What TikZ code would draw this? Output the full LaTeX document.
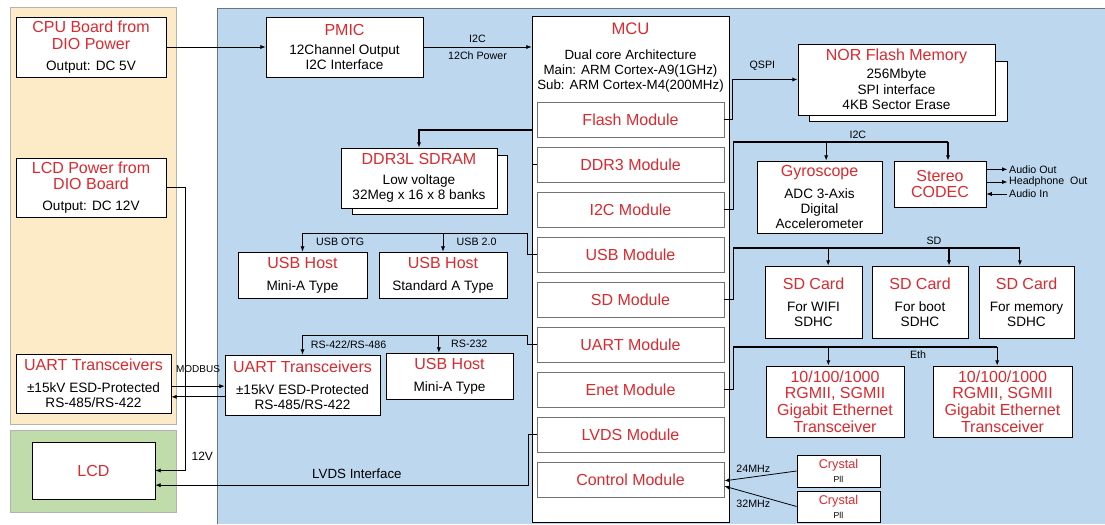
\documentclass[tikz,border=0pt]{standalone}
\usepackage{fontspec}
\setmainfont{Liberation Sans}
\usetikzlibrary{arrows.meta,positioning}
\definecolor{titred}{HTML}{DA2A2F}
\definecolor{panelbeige}{HTML}{FDEBC8}
\definecolor{panelblue}{HTML}{BDD7EE}
\definecolor{panelgreen}{HTML}{C0DCAA}
\newcommand{\ttl}[1]{{\color{titred}\fontsize{12}{13.5}\selectfont #1}}
\begin{document}
\begin{tikzpicture}[x=0.75pt,y=-0.75pt,line width=0.6pt,
	>={Latex[length=4pt,width=3.2pt]},
	sz/.style 2 args={minimum width=#1*0.75pt,minimum height=#2*0.75pt},
	box/.style={draw,fill=white,inner sep=0pt,align=center,font=\fontsize{10.2}{11.5}\selectfont},
	module/.style={draw=black!55,fill=white,sz={187}{35},inner sep=0pt,text=titred,font=\fontsize{12}{13.5}\selectfont},
	bus/.style={line width=1.2pt},
	lbl/.style={font=\fontsize{8}{9}\selectfont,inner sep=1pt}]
		\useasboundingbox (0,0) rectangle (1105,524);
		\draw[black!30,fill=panelbeige] (10,7) rectangle (176,424);
		\draw[black!30,fill=panelgreen] (10,430) rectangle (176,512);
		\fill[panelblue] (217,8) rectangle (1105,524);
		\draw[black!45!panelblue] (217,524) -- (217,8) -- (1105,8);
		\node[box,sz={150}{60}] (cpupwr) at (91,47) {\ttl{CPU Board from}\\[1pt]\ttl{DIO Power}\\[4pt]Output: DC 5V};
		\node[box,sz={150}{59}] (lcdpwr) at (91,187.5) {\ttl{LCD Power from}\\[1pt]\ttl{DIO Board}\\[4pt]Output: DC 12V};
		\node[box,sz={155}{59}] (uartl) at (93.5,383.5) {\ttl{UART Transceivers}\\[5pt]±15kV ESD-Protected\\RS-485/RS-422};
		\node[box,sz={123}{57}] (lcd) at (93.5,470.5) {\ttl{LCD}};
		\node[box,sz={157}{60}] (pmic) at (344.5,47) {\ttl{PMIC}\\[3pt]12Channel Output\\I2C Interface};
		\draw[fill=white] (352,155) rectangle (507,214);
		\node[box,sz={156}{60}] (ddr) at (419,178) {\ttl{DDR3L SDRAM}\\[3pt]Low voltage\\32Meg x 16 x 8 banks};
		\node[box,sz={129}{46}] (usbotg) at (302.5,275) {\ttl{USB Host}\\[5pt]Mini-A Type};
		\node[box,sz={128}{46}] (usbstd) at (443,275) {\ttl{USB Host}\\[5pt]Standard A Type};
		\node[box,sz={155}{60}] (uartr) at (302.5,385) {\ttl{UART Transceivers}\\[5pt]±15kV ESD-Protected\\RS-485/RS-422};
		\node[box,sz={127}{46}] (usbrs) at (449.5,376) {\ttl{USB Host}\\[5pt]Mini-A Type};
		\node[draw,fill=white,inner sep=0pt,sz={197}{506}] (mcu) at (630.5,269) {};
		\node[anchor=north,align=center,font=\fontsize{10}{11}\selectfont] (mcuhead) at (630.5,18) {{\color{titred}\fontsize{12.5}{14}\selectfont MCU}\\[8pt]Dual core Architecture\\Main: ARM Cortex-A9(1GHz)\\Sub: ARM Cortex-M4(200MHz)};
		\foreach \m/\txt [count=\i from 0] in {flashm/Flash Module,ddrm/DDR3 Module,i2cm/I2C Module,usbm/USB Module,sdm/SD Module,uartm/UART Module,enetm/Enet Module,lvdsm/LVDS Module,ctrlm/Control Module}
			\node[module] (\m) at (630.5,{119.5+45*\i}) {\txt};
		\draw[fill=white] (809,61) rectangle (1007,121);
		\node[box,sz={197}{71}] (nor) at (896.5,79.5) {\ttl{NOR Flash Memory}\\[2pt]256Mbyte\\SPI interface\\4KB Sector Erase};
		\node[box,sz={125}{72}] (gyro) at (819.5,197) {\ttl{Gyroscope}\\[5pt]ADC 3-Axis\\Digital\\Accelerometer};
		\node[box,sz={92}{46}] (codec) at (940,184) {\ttl{Stereo}\\[1pt]\ttl{CODEC}};
		\foreach \c/\xc/\w/\purpose in {sdwifi/813.5/97/For WIFI,sdboot/920/96/For boot,sdmem/1026.5/95/For memory}
			\node[box,sz={\w}{72}] (\c) at (\xc,302) {\ttl{SD Card}\\[5pt]\purpose\\SDHC};
		\foreach \e/\xc/\w in {eth1/835/138,eth2/1002.5/139}
			\node[box,sz={\w}{71}] (\e) at (\xc,401.5) {\ttl{10/100/1000}\\[1pt]\ttl{RGMII, SGMII}\\[1pt]\ttl{Gigabit Ethernet}\\[1pt]\ttl{Transceiver}};
		\node[box,sz={83}{32}] (xtal1) at (838.5,471) {{\color{titred}\fontsize{9.5}{11}\selectfont Crystal}\\[-1pt]{\fontsize{6.5}{7}\selectfont Pll}};
		\node[box,sz={83}{31}] (xtal2) at (838.5,506.5) {{\color{titred}\fontsize{9.5}{11}\selectfont Crystal}\\[-1pt]{\fontsize{6.5}{7}\selectfont Pll}};
		\draw[->] (cpupwr.east) -- (pmic.west);
		\draw[->] (pmic.east) -- (pmic.east -| mcu.west) node[lbl,midway,above=2pt] {I2C} node[lbl,midway,below=2pt] {12Ch Power};
		\draw[->] (lcdpwr.east) -- ++(19,0) |- (lcd.east) node[pos=0.475,right=1pt,font=\fontsize{9}{10}\selectfont] {12V};
		\coordinate (mbout) at ([yshift=-2pt]uartl.east);
		\coordinate (mbin) at ([yshift=-10pt]uartl.east);
		\draw[->] (mbout) -- (mbout -| uartr.west) node[lbl,midway,above=9pt,font=\fontsize{7.5}{8}\selectfont] {MODBUS};
		\draw[<-] (mbin) -- (mbin -| uartr.west);
		\draw[->] (lvdsm.west) -- ++(-8,0) |- ([yshift=-11pt]lcd.east) node[pos=0.73,above=1pt,font=\fontsize{10}{12}\selectfont] {LVDS Interface};
		\coordinate (usbbus) at (0,233);
		\draw (usbm.west) -- ++(-9,0) |- (usbotg.north |- usbbus);
		\draw[->] (usbotg.north |- usbbus) -- (usbotg.north) node[lbl,midway,right=9pt] {USB OTG};
		\draw[->] (usbstd.north |- usbbus) -- (usbstd.north) node[lbl,midway,right=9pt] {USB 2.0};
		\coordinate (uartbus) at (0,335);
		\coordinate (rsin) at ([xshift=-8pt]usbrs.north);
		\draw (uartm.west) -- ++(-9,0) |- (uartr.north |- uartbus);
		\draw[->] (uartr.north |- uartbus) -- (uartr.north) node[lbl,midway,right=5pt] {RS-422/RS-486};
		\draw[->] (rsin |- uartbus) -- (rsin) node[lbl,midway,right=8pt] {RS-232};
		\coordinate (ddrbus) at (0,130);
		\draw[bus,->] (ddrm.west) -- ++(-4,0) |- (ddr.north |- ddrbus) -- (ddr.north);
		\draw[bus,->] (flashm.east) -- ++(8,0) |- (nor.west) node[lbl,pos=0.73,above=5pt] {QSPI};
		\coordinate (i2cbus) at (0,142);
		\coordinate (gyroin) at ([xshift=5pt]gyro.north);
		\coordinate (codecin) at ([xshift=6pt]codec.north);
		\draw[bus] (i2cm.east) -- ++(9,0) |- (codecin |- i2cbus) node[lbl,pos=0.79,above=1pt] {I2C};
		\draw[line width=0.9pt,->] (gyroin |- i2cbus) -- (gyroin);
		\draw[line width=0.9pt,->] (codecin |- i2cbus) -- (codecin);
		\draw[->] ([yshift=11pt]codec.east) -- ++(21,0) node[lbl,right] {Audio Out};
		\draw[->] ([yshift=1.5pt]codec.east) -- ++(21,0) node[lbl,right] {Headphone\ \ Out};
		\draw[<-] ([yshift=-7.5pt]codec.east) -- ++(21,0) node[lbl,right] {Audio In};
		\coordinate (sdbus) at (0,248);
		\coordinate (sd1in) at ([xshift=11pt]sdwifi.north);
		\coordinate (sd2in) at ([xshift=21.75pt]sdboot.north);
		\coordinate (sd3in) at ([xshift=-5pt]sdmem.north);
		\draw[bus] (sdm.east) -- ++(9,0) |- (sd3in |- sdbus) node[lbl,pos=0.85,above=1pt] {SD};
		\foreach \t in {sd1in,sd2in,sd3in}
			\draw[line width=0.9pt,->] (\t |- sdbus) -- (\t);
		\coordinate (ethbus) at (0,347);
		\coordinate (eth1in) at ([xshift=-5pt]eth1.north);
		\coordinate (eth2in) at ([xshift=-4pt]eth2.north);
		\draw[bus] (enetm.east) -- ++(9,0) |- (eth2in |- ethbus) node[lbl,pos=0.85,below=1pt] {Eth};
		\draw[line width=0.9pt,->] (eth1in |- ethbus) -- (eth1in);
		\draw[line width=0.9pt,->] (eth2in |- ethbus) -- (eth2in);
		\draw[->] (xtal1.west) -- ([yshift=-1pt]ctrlm.east) node[lbl,pos=0.6,above=2pt] {24MHz};
		\draw[->] (xtal2.west) -- ([yshift=-5pt]ctrlm.east) node[lbl,pos=0.6,below=3pt] {32MHz};
	\end{tikzpicture}
\end{document}
